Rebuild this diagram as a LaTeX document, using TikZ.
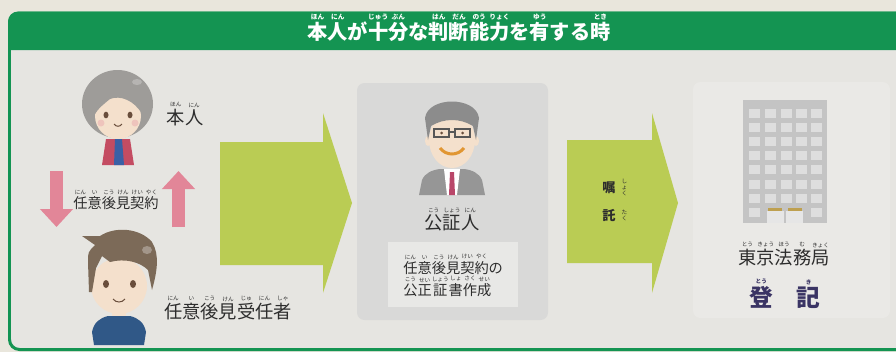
\documentclass[tikz,border=0pt]{standalone}
\usepackage{fontspec}
\setmainfont{Noto Sans CJK JP}
\usetikzlibrary{arrows.meta,positioning}
\definecolor{paperbg}{RGB}{233,230,220}
\definecolor{innerbg}{RGB}{230,229,225}
\definecolor{framegreen}{RGB}{20,148,82}
\definecolor{panelgray}{RGB}{217,217,216}
\definecolor{panellight}{RGB}{232,232,230}
\definecolor{officebg}{RGB}{234,233,230}
\definecolor{flowgreen}{RGB}{186,204,84}
\definecolor{pactpink}{RGB}{226,134,152}
\definecolor{inkgray}{RGB}{45,45,45}
\definecolor{skin}{RGB}{244,224,204}
\definecolor{grayhair}{RGB}{158,156,153}
\definecolor{notaryhair}{RGB}{140,140,140}
\definecolor{brownhair}{RGB}{124,106,88}
\definecolor{eyebrown}{RGB}{105,78,60}
\definecolor{jacketred}{RGB}{196,76,98}
\definecolor{shirtblue}{RGB}{58,96,165}
\definecolor{sweaterblue}{RGB}{48,88,135}
\definecolor{suitgray}{RGB}{150,150,150}
\definecolor{tiered}{RGB}{185,70,105}
\definecolor{smileorange}{RGB}{225,150,50}
\definecolor{bldgray}{RGB}{196,196,196}
\definecolor{winlight}{RGB}{222,222,222}
\definecolor{doorlight}{RGB}{230,230,230}
\definecolor{doorgold}{RGB}{190,160,80}
\definecolor{sealnavy}{RGB}{58,52,100}
% furigana over a base character
\newcommand{\rbfont}{\fontsize{3.2pt}{3.4pt}\selectfont}
\newcommand{\rb}[2]{\leavevmode\vbox{\offinterlineskip\halign{\hfil##\hfil\cr\rbfont #2\cr\noalign{\kern1pt}#1\cr}}}

\begin{document}
\begin{tikzpicture}[x=0.02cm, y=-0.02cm, >=Stealth,
    lbl/.style={inner sep=0pt, text=inkgray, anchor=base},
    biglbl/.style={lbl, font=\fontsize{10.4}{12}\selectfont},
    smalllbl/.style={lbl, font=\fontsize{8.1}{10}\selectfont},
    flow/.style={fill=flowgreen},
    pact/.style={draw=pactpink, line width=0.26cm,
                 -{Triangle[width=0.64cm,length=0.36cm]}}
  ]
  \fill[paperbg] (0,0) rectangle (896,352);
  \useasboundingbox (0,0) rectangle (896,352);

  % frame and header band
  \draw[framegreen, line width=0.06cm, fill=innerbg, rounded corners=0.2cm]
    (9.5,13) rectangle (915,349.5);
  \fill[framegreen] (8,50) [rounded corners=0.2cm] -- (8,11.5) -- (915,11.5)
    [sharp corners] -- (915,50) -- cycle;
  \node[lbl, text=white, font=\bfseries\fontsize{11.5}{13}\selectfont] (title) at (459,39)
    {\renewcommand{\rbfont}{\fontsize{3.8pt}{4pt}\selectfont}%
     \rb{本}{ほん}\rb{人}{にん}が\rb{十}{じゅう}\rb{分}{ぶん}な\rb{判}{はん}\rb{断}{だん}\rb{能}{のう}\rb{力}{りょく}を\rb{有}{ゆう}する\rb{時}{とき}};

  % principal
  \fill[grayhair] (117.5,104) ellipse (35.5 and 34);
  \fill[skin] (118,116) ellipse (23 and 23);
  \fill[grayhair] (94,116) .. controls (90,86) and (140,82) .. (142,114)
    .. controls (134,100) and (120,95) .. (110,99)
    .. controls (104,104) and (98,108) .. (94,116) -- cycle;
  \fill[white, opacity=0.25] (137,82) ellipse (5 and 3);
  \fill[eyebrown] (106,115) ellipse (2.5 and 3.3);
  \fill[eyebrown] (130,115) ellipse (2.5 and 3.3);
  \fill[pactpink, opacity=0.3] (101,123) circle (3.5);
  \fill[pactpink, opacity=0.3] (135,123) circle (3.5);
  \draw[eyebrown, line width=0.02cm] (114,124) .. controls (116,127) and (120,127) .. (122,124);
  \fill[skin] (113,134) rectangle (123,141);
  \fill[jacketred] (106,139) -- (130,139) -- (134,165) -- (102,165) -- cycle;
  \fill[shirtblue] (115,139) -- (122,139) -- (124,165) -- (114,165) -- cycle;
  \node[biglbl] (principal) at (185,124) {\rb{本}{ほん}\rb{人}{にん}};

  % contract arrows
  \coordinate (downtop) at (56.5,171);
  \coordinate (downtip) at (56.5,227);
  \coordinate (upfoot) at (178.5,227);
  \coordinate (uptip) at (178.5,171);
  \draw[pact] (downtop) -- (downtip);
  \draw[pact] (upfoot) -- (uptip);
  \node[smalllbl] (pact) at (116,208.5)
    {\rb{任}{にん}\rb{意}{い}\rb{後}{こう}\rb{見}{けん}\rb{契}{けい}\rb{約}{やく}};

  % guardian
  \fill[skin] (119,286) ellipse (28 and 28);
  \fill[brownhair] (89,292) -- (88,262) .. controls (88,252) .. (95,245) -- (82,236) -- (100,236)
    .. controls (115,226) and (140,228) .. (152,242)
    .. controls (160,255) and (157,272) .. (152,290) -- (148,270)
    .. controls (140,262) and (125,258) .. (110,262) -- (102,256) -- (96,268) -- (92,292) -- cycle;
  \fill[white, opacity=0.3] (147,250) ellipse (5 and 4);
  \fill[eyebrown] (106,284) ellipse (3 and 4);
  \fill[eyebrown] (133,284) ellipse (3 and 4);
  \draw[eyebrown, line width=0.02cm] (113,299) .. controls (116,303) and (122,303) .. (125,299);
  \fill[skin] (112,310) rectangle (126,319);
  \fill[sweaterblue] (94,345) -- (92,332) .. controls (94,322) and (100,318) .. (108,316)
    -- (130,316) .. controls (138,318) and (144,322) .. (146,332) -- (144,345) -- cycle;
  \node[biglbl] (guardian) at (228,318)
    {\rb{任}{にん}\rb{意}{い}\rb{後}{こう}\rb{見}{けん}\rb{受}{じゅ}\rb{任}{にん}\rb{者}{しゃ}};

  % flow arrows
  \fill[flow] (220,142) -- (323,142) -- (323,113) -- (352,203) -- (323,293)
    -- (323,265) -- (220,265) -- cycle;
  \fill[flow] (567,140) -- (652,140) -- (652,113) -- (678,203) -- (652,293)
    -- (652,263) -- (567,263) -- cycle;
  \node[smalllbl, font=\bfseries\fontsize{7.5}{9}\selectfont] (ask1) at (609,192) {嘱};
  \node[smalllbl, font=\bfseries\fontsize{7.5}{9}\selectfont] (ask2) at (609,220) {託};
  \node[font=\rbfont, align=center, inner sep=0pt, text=inkgray, right=3pt of ask1.east] {し\\ょ\\く};
  \node[font=\rbfont, align=center, inner sep=0pt, text=inkgray, right=3pt of ask2.east] {た\\く};

  % notary panel
  \fill[panelgray, rounded corners=0.15cm] (357,83) rectangle (548,320);
  \fill[panellight] (388,242) rectangle (518,307);
  \fill[skin] (452,140) ellipse (23 and 28);
  \fill[skin] (428,141) ellipse (3 and 5);
  \fill[skin] (476,141) ellipse (3 and 5);
  \fill[notaryhair] (428,140) -- (425,118) .. controls (428,96) and (476,96) .. (479,118)
    -- (476,140) -- (473,126) .. controls (460,118) and (444,118) .. (431,126) -- cycle;
  \draw[inkgray!80, line width=0.025cm] (434,129) rectangle (449,137) (455,129) rectangle (470,137)
    (449,132) -- (455,132);
  \fill[eyebrown] (441.5,133) circle (1.5);
  \fill[eyebrown] (462.5,133) circle (1.5);
  \draw[smileorange, line width=0.06cm] (440,148) .. controls (446,156) and (458,156) .. (464,148);
  \fill[suitgray] (419,195) -- (422,180) .. controls (425,173) and (432,170) .. (440,169)
    -- (464,169) .. controls (472,170) and (479,173) .. (482,180) -- (485,195) -- cycle;
  \fill[white] (444,169) -- (460,169) -- (457,195) -- (447,195) -- cycle;
  \fill[tiered] (450,172) -- (454,172) -- (455,195) -- (449,195) -- cycle;
  \node[biglbl] (notary) at (452,229) {\rb{公}{こう}\rb{証}{しょう}\rb{人}{にん}};
  \node[smalllbl, anchor=base west] (deed1) at (403,273)
    {\rb{任}{にん}\rb{意}{い}\rb{後}{こう}\rb{見}{けん}\rb{契}{けい}\rb{約}{やく}の};
  \node[smalllbl, anchor=base west] (deed2) at (403,295)
    {\rb{公}{こう}\rb{正}{せい}\rb{証}{しょう}\rb{書}{しょ}\rb{作}{さく}\rb{成}{せい}};

  % legal affairs bureau
  \fill[officebg, rounded corners=0.15cm] (693,82) rectangle (890,318);
  \fill[bldgray] (743,100) rectangle (827,223);
  \foreach \c in {754,770,786,801,816}
    \foreach \r in {113,127,141,155,169,184,198}
      \fill[winlight] (\c-5.5,\r-4.5) rectangle (\c+5.5,\r+4.5);
  \foreach \c in {754,816}
    \fill[winlight] (\c-5.5,207.5) rectangle (\c+5.5,216.5);
  \fill[doorlight] (767,211) rectangle (803,223);
  \draw[bldgray, line width=0.03cm] (785,211) -- (785,223);
  \draw[doorgold, line width=0.05cm] (768,209.5) -- (782,209.5) (788,209.5) -- (802,209.5);
  \node[biglbl] (bureau) at (784,264)
    {\rb{東}{とう}\rb{京}{きょう}\rb{法}{ほう}\rb{務}{む}\rb{局}{きょく}};
  \node[lbl, text=sealnavy, font=\bfseries\fontsize{13.5}{15}\selectfont] (record) at (785,306)
    {\rb{登}{とう}\hspace{1em}\rb{記}{き}};
\end{tikzpicture}
\end{document}
